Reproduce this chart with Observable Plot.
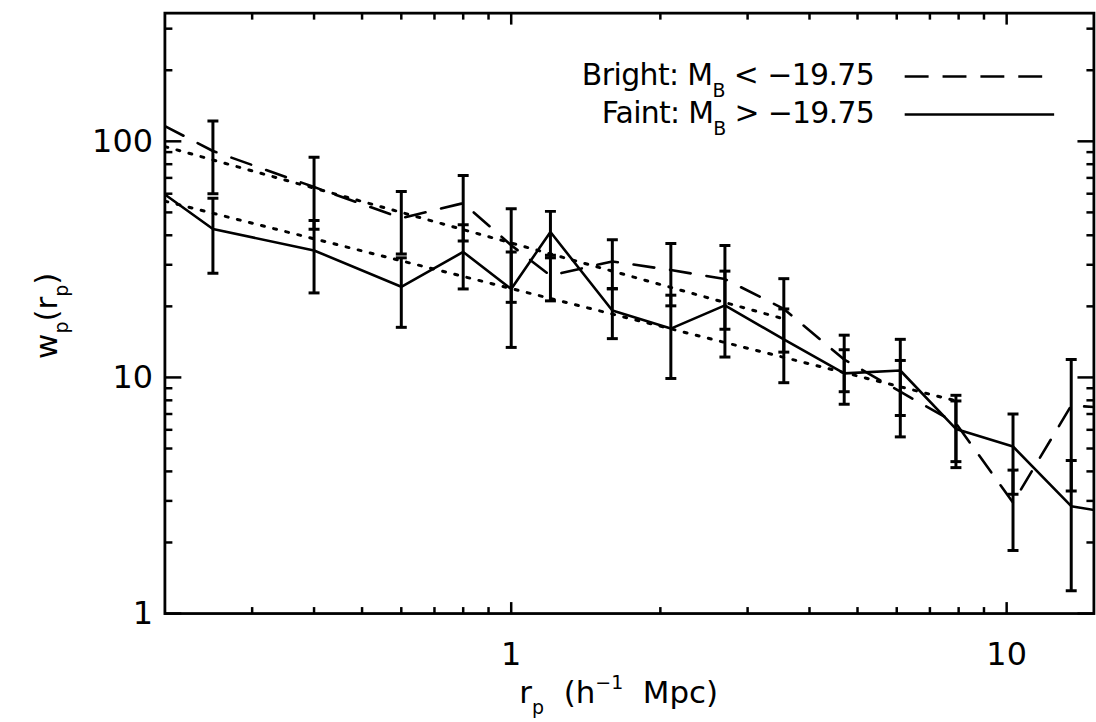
<!DOCTYPE html>
<html><head><meta charset="utf-8">
<script src="https://cdn.jsdelivr.net/npm/d3@7"></script>
<script src="https://cdn.jsdelivr.net/npm/@observablehq/plot@0.6"></script>
<style>
html,body{margin:0;padding:0;background:#fff;overflow:hidden;width:1096px;height:722px}
#chart svg{display:block}
</style></head><body><div id="chart"></div>
<script>
// ---- data ----
const rp        = [0.2, 0.25, 0.4, 0.6, 0.8, 1.0, 1.2, 1.6, 2.1, 2.7, 3.55, 4.7, 6.1, 7.9, 10.3, 13.5, 17.5];
const bright    = [116, 91, 64, 47.3, 54.7, 36.3, 27.0, 31.0, 28.5, 26.1, 19.5, 11.9, 8.7, 6.4, 2.95, 7.6, 7.35];
const brightErr = [null, 31, 21.6, 14, 16.9, 15.5, 5.9, 7.3, 8.4, 10.1, 6.7, 3.2, 3.1, 2.0, 1.1, 4.3, null];
const faint     = [59.5, 42.5, 34.5, 24.2, 34.0, 23.7, 41.3, 19.2, 16.1, 20.2, 14.5, 10.4, 10.7, 6.05, 5.1, 2.85, 2.6];
const faintErr  = [null, 14.9, 11.7, 7.9, 10.3, 10.3, 9.2, 4.6, 6.2, 8.0, 5.0, 2.7, 3.8, 1.9, 1.9, 1.6, null];
// power-law fits (dotted), end points
const brightFitR = [0.2, 3.55];
const brightFitW = [95, 17.7];
const faintFitR  = [0.2, 7.9];
const faintFitW  = [55.8, 7.96];
// ticks
const xMajor = [1, 10];
const xMinor = [0.3, 0.4, 0.5, 0.6, 0.7, 0.8, 0.9, 2, 3, 4, 5, 6, 7, 8, 9];
const yMajor = [1, 10, 100];
const yMinor = [2, 3, 4, 5, 6, 7, 8, 9, 20, 30, 40, 50, 60, 70, 80, 90, 200, 300];
const legendLabels = ["Bright", "Faint"];
const magCut = "19.75";

const FONT = "DejaVu Sans";
const DASH = "21,16";

const rows = rp.map((r, i) => ({r, bright: bright[i], faint: faint[i]}));
const errRows = [];
rp.forEach((r, i) => {
  if (brightErr[i] != null) errRows.push({r, lo: bright[i] - brightErr[i], hi: bright[i] + brightErr[i]});
  if (faintErr[i] != null) errRows.push({r, lo: faint[i] - faintErr[i], hi: faint[i] + faintErr[i]});
});
const capRows = errRows.flatMap(d => [{r: d.r, y: d.lo}, {r: d.r, y: d.hi}]);
const brightFit = brightFitR.map((r, i) => ({r, w: brightFitW[i]}));
const faintFit = faintFitR.map((r, i) => ({r, w: faintFitW[i]}));

const capSymbol = {draw(ctx, size) { const h = Math.sqrt(size / Math.PI); ctx.moveTo(-h, 0); ctx.lineTo(h, 0); }};

const tickOpts = {stroke: "black", strokeWidth: 2.5, fill: "none", label: null};

const chart = Plot.plot({
  width: 1100, height: 722,
  marginLeft: 165, marginRight: 2.6, marginTop: 12.7, marginBottom: 106.7,
  x: {type: "log", domain: [0.2, 15]},
  y: {type: "log", domain: [1, 349]},
  style: {fontFamily: FONT, fontSize: "32px", background: "white", color: "black"},
  marks: [
    // tick marks, pointing inward on all four sides
    Plot.axisX(xMajor, {...tickOpts, anchor: "bottom", tickSize: -11}),
    Plot.axisX(xMinor, {...tickOpts, anchor: "bottom", tickSize: -6}),
    Plot.axisX(xMajor, {...tickOpts, anchor: "top", tickSize: -11}),
    Plot.axisX(xMinor, {...tickOpts, anchor: "top", tickSize: -6}),
    Plot.axisY(yMajor, {...tickOpts, anchor: "left", tickSize: -17}),
    Plot.axisY(yMinor, {...tickOpts, anchor: "left", tickSize: -8}),
    Plot.axisY(yMajor, {...tickOpts, anchor: "right", tickSize: -17}),
    Plot.axisY(yMinor, {...tickOpts, anchor: "right", tickSize: -8}),
    // tick labels
    Plot.axisX(xMajor, {anchor: "bottom", tickSize: 0, tickPadding: 29, tickFormat: d => String(d), label: null, fontSize: 32}),
    Plot.axisY(yMajor, {anchor: "left", tickSize: 0, tickPadding: 12, tickFormat: d => String(d), label: null, fontSize: 32}),
    // fits
    Plot.line(brightFit, {x: "r", y: "w", stroke: "black", strokeWidth: 3, strokeDasharray: "3,9.5", clip: true}),
    Plot.line(faintFit, {x: "r", y: "w", stroke: "black", strokeWidth: 3, strokeDasharray: "3,9.5", clip: true}),
    // data
    Plot.line(rows, {x: "r", y: "bright", stroke: "black", strokeWidth: 2.6, strokeDasharray: DASH, clip: true}),
    Plot.line(rows, {x: "r", y: "faint", stroke: "black", strokeWidth: 2.6, clip: true}),
    Plot.ruleX(errRows, {x: "r", y1: "lo", y2: "hi", stroke: "black", strokeWidth: 3, clip: true}),
    Plot.dot(capRows, {x: "r", y: "y", r: 5.5, symbol: capSymbol, stroke: "black", strokeWidth: 3, fill: "none", clip: true}),
    Plot.frame({stroke: "black", strokeWidth: 2.8})
  ]
});
document.getElementById("chart").appendChild(chart);

// ---- text with sub/superscripts and legend ----
const svg = d3.select(chart);
const g = svg.append("g").attr("font-family", FONT).attr("fill", "black");

function addParts(t, parts, size, subDy) {
  parts.forEach(([s, kind]) => {
    const ts = t.append("tspan").text(s);
    if (kind === "sub") ts.attr("font-size", 19).attr("dy", subDy);
    else if (kind === "subEnd") ts.attr("font-size", size).attr("dy", -subDy);
    else if (kind === "sup") ts.attr("font-size", 19).attr("dy", -14);
    else if (kind === "supEnd") ts.attr("font-size", size).attr("dy", 14);
  });
}

// x title
const xt = g.append("text").attr("x", 621).attr("y", 706).attr("font-size", 31).attr("text-anchor", "middle")
  .style("white-space", "pre");
addParts(xt, [["r"], ["p", "sub"], ["  (h", "subEnd"], ["−1", "sup"], ["  Mpc)", "supEnd"]], 31, 11);

// y title
const yt = g.append("text").attr("transform", "translate(57,317) rotate(-90)").attr("font-size", 31).attr("text-anchor", "middle");
addParts(yt, [["w"], ["p", "sub"], ["(r", "subEnd"], ["p", "sub"], [")", "subEnd"]], 31, 11);

// legend
const legRows = [
  {label: legendLabels[0], rel: "<", base: 85, lineY: 76.7, dash: true, len: 294},
  {label: legendLabels[1], rel: ">", base: 123.3, lineY: 115, dash: false, len: 274}
];
legRows.forEach(d => {
  const t = g.append("text").attr("x", 878).attr("y", d.base).attr("font-size", 30).attr("text-anchor", "end")
    .attr("textLength", d.len).attr("lengthAdjust", "spacing").style("white-space", "pre");
  addParts(t, [[d.label + ": M"], ["B", "sub"], [" " + d.rel + " −" + magCut, "subEnd"]], 30, 12);
  const ln = g.append("line").attr("x1", 908).attr("x2", 1058).attr("y1", d.lineY).attr("y2", d.lineY)
    .attr("stroke", "black").attr("stroke-width", 2.5);
  if (d.dash) ln.attr("stroke-dasharray", "24,14");
});
</script></body></html>
